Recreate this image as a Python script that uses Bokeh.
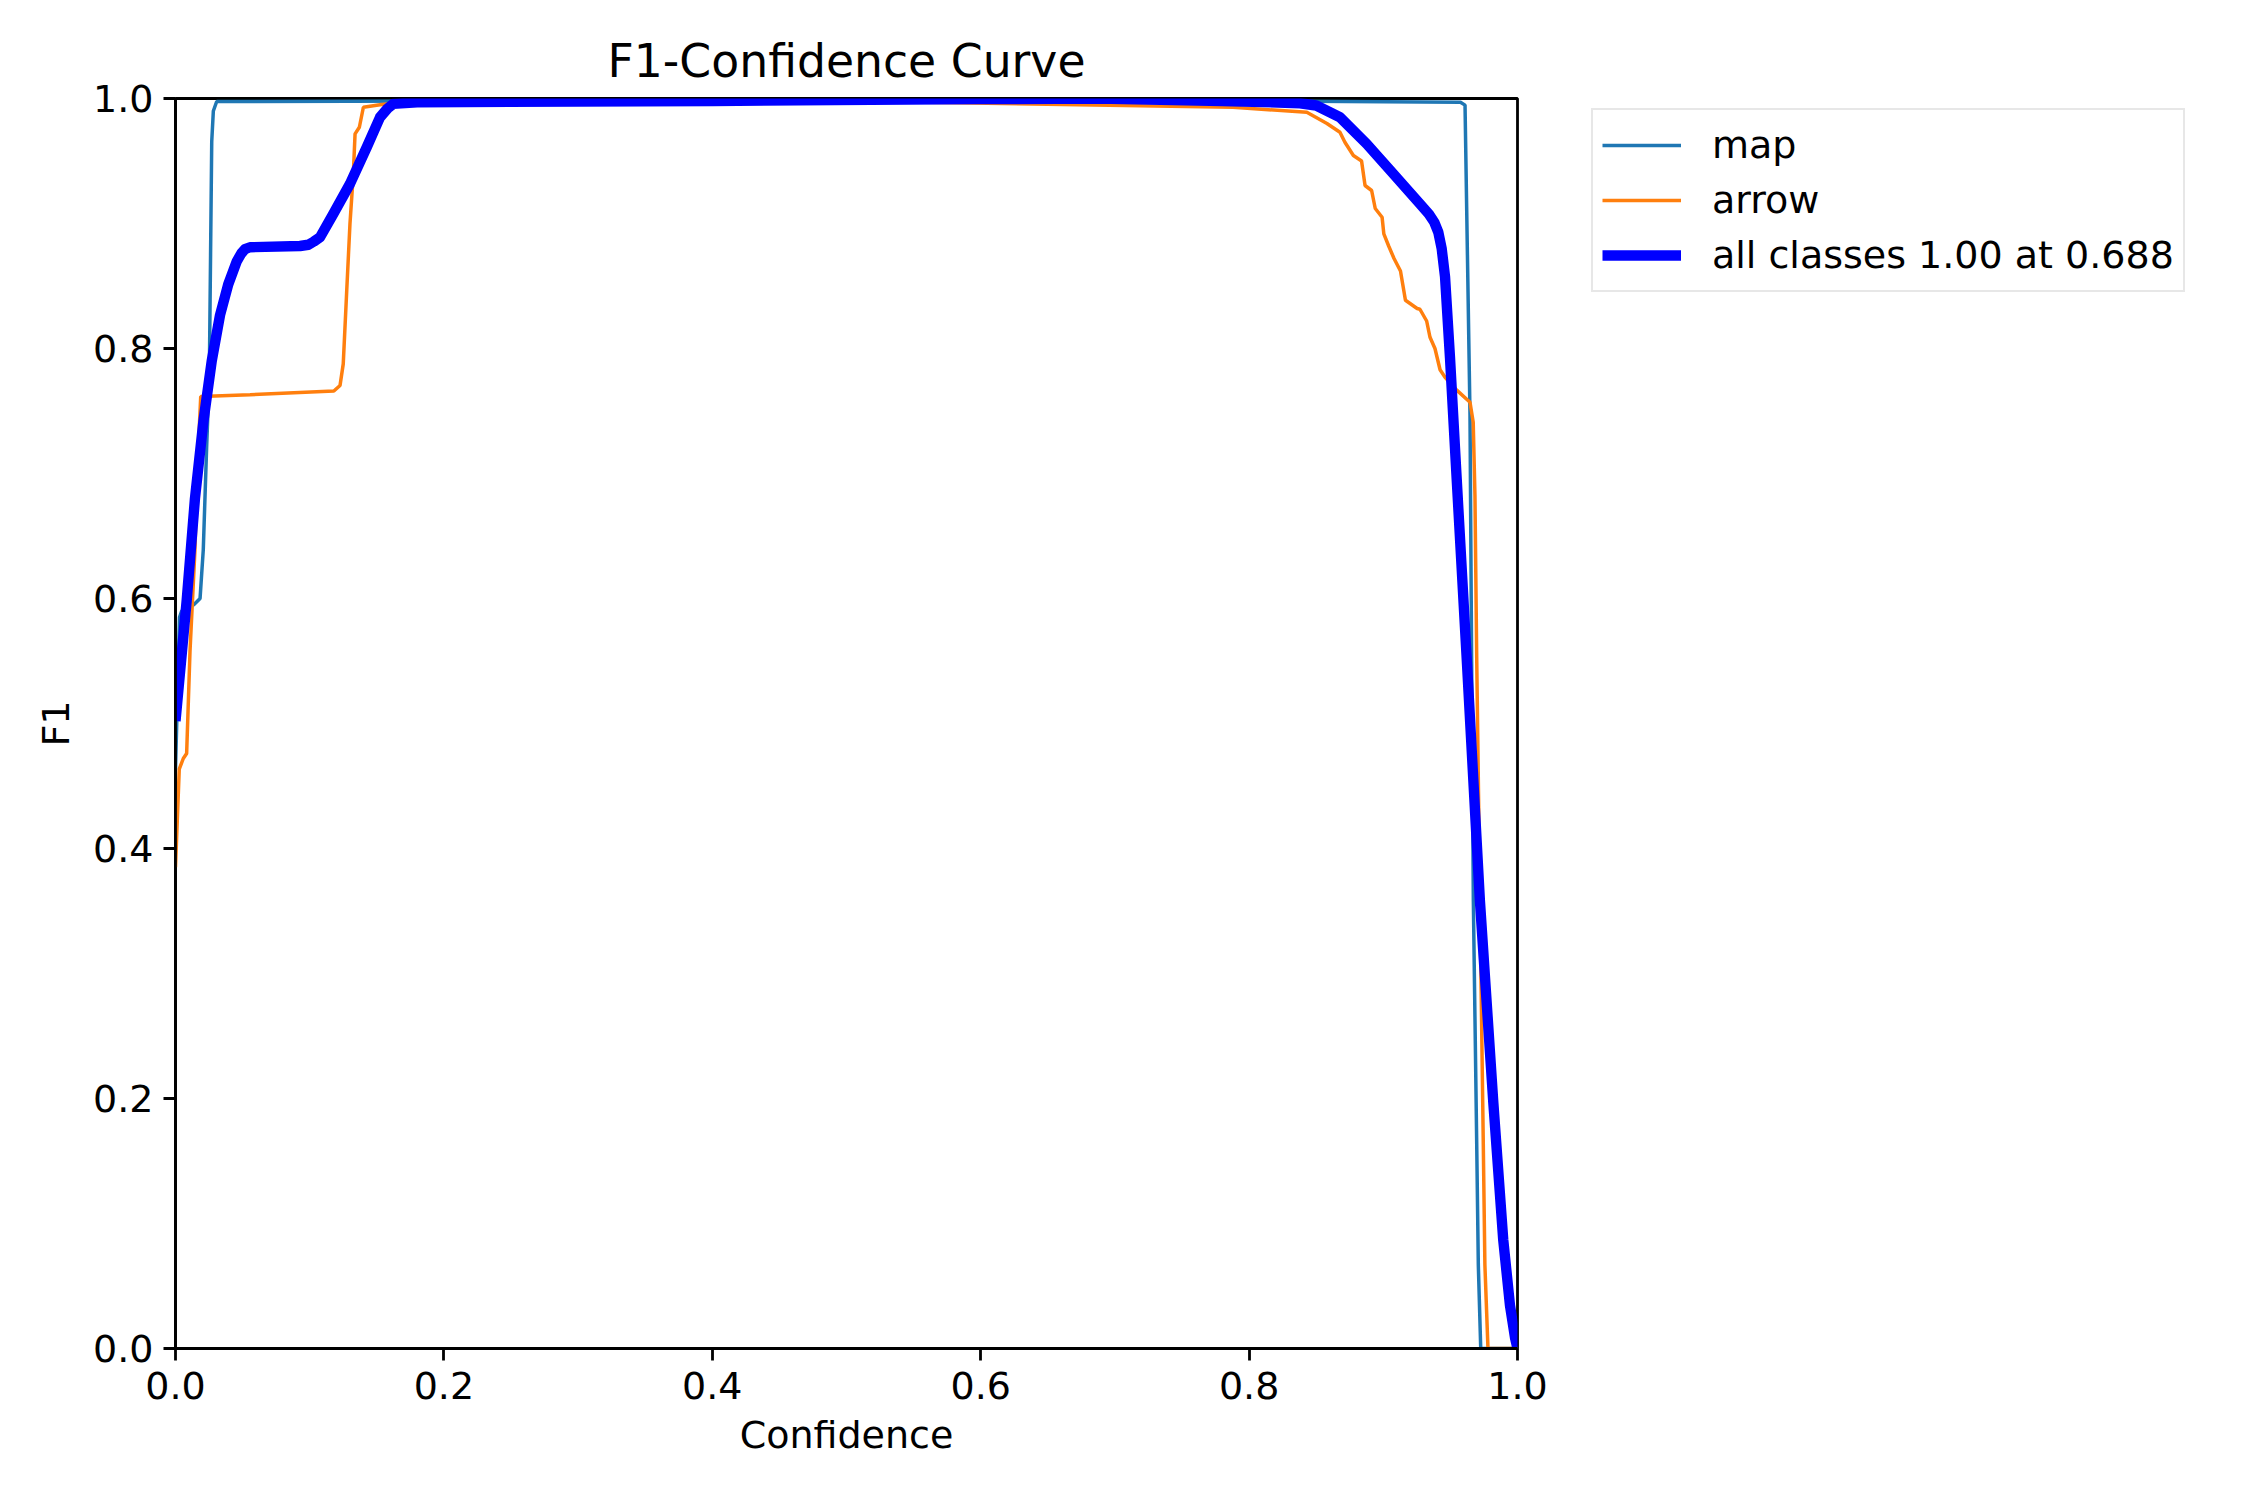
from bokeh.plotting import figure
from bokeh.models import Range1d, FixedTicker, Legend, LegendItem
from bokeh.embed import file_html
from bokeh.resources import INLINE

# ---- data ----
map_x = [0.0, 0.003, 0.0046, 0.0136, 0.0183, 0.0207, 0.0232, 0.0252, 0.027, 0.0282, 0.0307,
         0.2, 0.5, 0.8, 0.9575, 0.9609, 0.9646, 0.9658, 0.9671, 0.9696, 0.9708, 0.9726, 1.0]
map_y = [0.463, 0.585, 0.59, 0.595, 0.600, 0.639, 0.721, 0.778, 0.9656, 0.990, 0.9976,
         0.998, 0.998, 0.998, 0.997, 0.9947, 0.747, 0.553, 0.358, 0.164, 0.067, 0.0, 0.0]

arrow_x = [0.0, 0.0028, 0.0058, 0.0083, 0.0108, 0.0145, 0.017, 0.0188, 0.0555, 0.118, 0.1226,
           0.125, 0.1276, 0.130, 0.1325, 0.1338, 0.137, 0.14, 0.1524, 0.17, 0.5, 0.788,
           0.843, 0.858, 0.8677, 0.8714, 0.8777, 0.8838, 0.8864, 0.8913, 0.894, 0.8991,
           0.9004, 0.904, 0.908, 0.9128, 0.9165, 0.9252, 0.9273, 0.9323, 0.9348, 0.9385,
           0.9423, 0.946, 0.9547, 0.9646, 0.967, 0.9683, 0.9696, 0.972, 0.9745, 0.9757,
           0.978, 1.0]
arrow_y = [0.385, 0.4635, 0.472, 0.476, 0.5576, 0.639, 0.72, 0.7616, 0.763, 0.766, 0.7704,
           0.7877, 0.8464, 0.8997, 0.9397, 0.9717, 0.977, 0.993, 0.995, 0.997, 0.998, 0.993,
           0.989, 0.98, 0.973, 0.965, 0.9544, 0.95, 0.9304, 0.9264, 0.912, 0.905,
           0.8917, 0.882, 0.872, 0.862, 0.8386, 0.832, 0.8314, 0.822, 0.809, 0.80,
           0.783, 0.777, 0.7667, 0.757, 0.741, 0.6824, 0.553, 0.358, 0.164, 0.067,
           0.0, 0.0]

all_x = [0.0, 0.0083, 0.0145, 0.0207, 0.027, 0.0332, 0.0393, 0.0456, 0.0490, 0.0518, 0.0555,
         0.0928, 0.0990, 0.1030, 0.1077, 0.1176, 0.130, 0.1425, 0.1524, 0.158, 0.1623, 0.18,
         0.4, 0.6, 0.688, 0.78, 0.81, 0.838, 0.850, 0.8677, 0.8876, 0.9075, 0.9273, 0.9340,
         0.9380, 0.9410, 0.9435, 0.946, 0.9497, 0.9547, 0.9621, 0.972, 0.982, 0.9894,
         0.9944, 0.9981, 1.0]
all_y = [0.502, 0.598, 0.68, 0.741, 0.79, 0.8268, 0.8513, 0.8696, 0.876, 0.8795, 0.881,
         0.882, 0.883, 0.8855, 0.889, 0.9077, 0.9317, 0.961, 0.985, 0.992, 0.9957, 0.997,
         0.998, 0.9995, 1.0, 0.998, 0.9972, 0.9962, 0.9944, 0.985, 0.9637, 0.9397, 0.9157,
         0.9075, 0.9010, 0.8930, 0.8800, 0.8574, 0.7926, 0.6954, 0.553, 0.358, 0.1964,
         0.0866, 0.0344, 0.009, 0.0]

series_names = ["map", "arrow", "all classes 1.00 at 0.688"]
tick_values = [0.0, 0.2, 0.4, 0.6, 0.8, 1.0]
tick_labels = ["0.0", "0.2", "0.4", "0.6", "0.8", "1.0"]

FONT = "DejaVu Sans"
FS = "38px"

p = figure(frame_width=1342, frame_height=1250, output_backend="svg", toolbar_location=None,
           x_range=Range1d(0, 1), y_range=Range1d(0, 1),
           title="F1-Confidence Curve",
           min_border_left=175, min_border_right=0, min_border_top=98, min_border_bottom=152)
p.xgrid.visible = False
p.ygrid.visible = False
p.background_fill_color = "white"
p.border_fill_color = "white"
p.outline_line_color = "black"
p.outline_line_width = 2.8
p.outline_line_alpha = 1.0

p.title.text_font = FONT
p.title.text_font_size = "45.7px"
p.title.text_font_style = "normal"
p.title.align = "center"
p.title.text_color = "black"
p.title.standoff = 21

for ax, lab in ((p.xaxis[0], "Confidence"), (p.yaxis[0], "F1")):
    ax.ticker = FixedTicker(ticks=tick_values)
    ax.major_label_overrides = {v: t for v, t in zip(tick_values, tick_labels)}
    ax.major_label_text_font = FONT
    ax.major_label_text_font_size = FS
    ax.major_label_text_color = "black"
    ax.axis_label = lab
    ax.axis_label_text_font = FONT
    ax.axis_label_text_font_size = FS
    ax.axis_label_text_font_style = "normal"
    ax.axis_label_text_color = "black"
    ax.axis_line_width = 2.8
    ax.major_tick_line_width = 2.8
    ax.major_tick_out = 12
    ax.major_tick_in = 0
    ax.minor_tick_line_color = None

p.xaxis[0].major_label_standoff = 11
p.xaxis[0].axis_label_standoff = 11
p.yaxis[0].major_label_standoff = 10
p.yaxis[0].axis_label_standoff = 12

r_map = p.line(map_x, map_y, line_color="#1f77b4", line_width=3.5)
r_arrow = p.line(arrow_x, arrow_y, line_color="#ff7f0e", line_width=3.5)
r_all = p.line(all_x, all_y, line_color="#0000ff", line_width=10.4, line_join="round")

legend = Legend(items=[LegendItem(label=series_names[0], renderers=[r_map]),
                       LegendItem(label=series_names[1], renderers=[r_arrow]),
                       LegendItem(label=series_names[2], renderers=[r_all])],
                location=(74, 1056))
legend.label_text_font = FONT
legend.label_text_font_size = FS
legend.label_text_color = "black"
legend.glyph_width = 79
legend.glyph_height = 52
legend.label_height = 52
legend.label_standoff = 31
legend.spacing = 3
legend.padding = 9
legend.margin = 0
legend.border_line_color = "#d0d0d0"
legend.border_line_width = 2.8
legend.background_fill_color = "white"
legend.background_fill_alpha = 0.8
p.add_layout(legend, "right")

open("out.html", "w").write(file_html(p, INLINE))
